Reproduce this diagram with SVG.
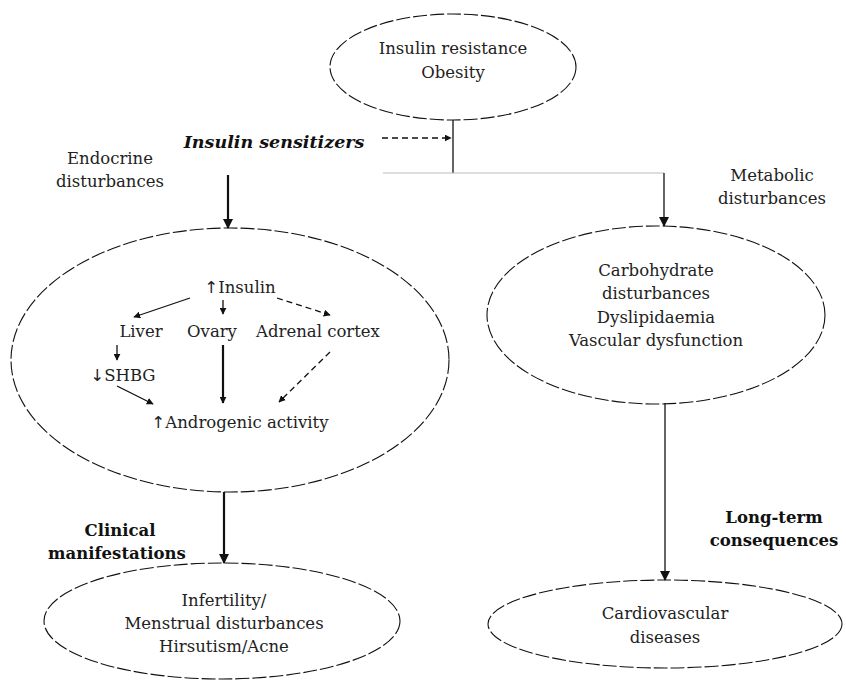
<svg xmlns="http://www.w3.org/2000/svg" width="846" height="683" viewBox="0 0 846 683">
  <style>
    .node { fill: none; stroke: #111; stroke-width: 1.1; stroke-dasharray: 14 3; }
    .t { font-family: "DejaVu Serif", "Liberation Serif", serif; font-size: 16.5px; fill: #222; text-anchor: middle; }
    .b { font-family: "DejaVu Serif", "Liberation Serif", serif; font-size: 16.5px; font-weight: bold; fill: #111; text-anchor: middle; }
    .bi { font-style: italic; font-size: 17.5px; }
    .up { font-family: "DejaVu Sans", sans-serif; fill: #222; }
    .ln { stroke: #111; fill: none; }
    .thin { stroke-width: 1.3; }
    .thick { stroke-width: 2.2; }
    .dash { stroke-dasharray: 6 4; }
  </style>
  <defs>
    <marker id="ah" viewBox="0 0 10 10" refX="9" refY="5" markerWidth="7" markerHeight="7" markerUnits="userSpaceOnUse" orient="auto">
      <path d="M0,0 L10,5 L0,10 z" fill="#111"/>
    </marker>
    <marker id="ahb" viewBox="0 0 10 10" refX="9" refY="5" markerWidth="10" markerHeight="10" markerUnits="userSpaceOnUse" orient="auto">
      <path d="M0,0 L10,5 L0,10 z" fill="#111"/>
    </marker>
  </defs>
  <rect width="846" height="683" fill="#fff"/>

  <g id="connectors">
    <!-- trunk from the top node and its split -->
    <line class="ln thin" x1="453" y1="120" x2="453" y2="173"/>
    <line x1="383" y1="173" x2="664" y2="173" stroke="#bbb" stroke-width="1"/>
    <line class="ln thin dash" x1="382" y1="138" x2="451" y2="138" marker-end="url(#ah)"/>
    <line class="ln thin" x1="664" y1="173" x2="664" y2="226" marker-end="url(#ahb)"/>
    <line class="ln thick" x1="228" y1="175" x2="228" y2="228" marker-end="url(#ahb)"/>
    <line class="ln thin" x1="665" y1="403" x2="665" y2="580" marker-end="url(#ahb)"/>
    <line class="ln thick" x1="224" y1="492" x2="224" y2="563" marker-end="url(#ahb)"/>
    <!-- pathway arrows inside the endocrine node -->
    <line class="ln thin" x1="190" y1="298" x2="134" y2="317" marker-end="url(#ah)"/>
    <line class="ln thin" x1="223" y1="300" x2="223" y2="314" marker-end="url(#ah)"/>
    <line class="ln thin dash" x1="277" y1="298" x2="330" y2="315" marker-end="url(#ah)"/>
    <line class="ln thin" x1="117" y1="345" x2="117" y2="360" marker-end="url(#ah)"/>
    <line class="ln thick" x1="223" y1="345" x2="223" y2="403" marker-end="url(#ah)"/>
    <line class="ln thin" x1="117" y1="386" x2="153" y2="404" marker-end="url(#ah)"/>
    <line class="ln thin dash" x1="330" y1="352" x2="279" y2="402" marker-end="url(#ah)"/>
  </g>

  <g id="insulin-resistance">
    <ellipse class="node" cx="453" cy="67" rx="123" ry="53"/>
    <text class="t" x="453" y="54">Insulin resistance</text>
    <text class="t" x="453" y="78">Obesity</text>
  </g>

  <g id="insulin-sensitizers">
    <text class="b bi" x="274" y="148">Insulin sensitizers</text>
  </g>

  <g id="endocrine-label">
    <text class="t" x="110" y="164">Endocrine</text>
    <text class="t" x="110" y="187">disturbances</text>
  </g>

  <g id="metabolic-label">
    <text class="t" x="772" y="181">Metabolic</text>
    <text class="t" x="772" y="204">disturbances</text>
  </g>

  <g id="endocrine">
    <ellipse class="node" cx="230" cy="360" rx="219" ry="132"/>
    <text class="t" x="240" y="293"><tspan class="up">↑</tspan>Insulin</text>
    <text class="t" x="141" y="337">Liver</text>
    <text class="t" x="212" y="337">Ovary</text>
    <text class="t" x="318" y="337">Adrenal cortex</text>
    <text class="t" x="123" y="381"><tspan class="up">↓</tspan>SHBG</text>
    <text class="t" x="240" y="428"><tspan class="up">↑</tspan>Androgenic activity</text>
  </g>

  <g id="metabolic">
    <ellipse class="node" cx="656" cy="315" rx="169" ry="89"/>
    <text class="t" x="656" y="276">Carbohydrate</text>
    <text class="t" x="656" y="299">disturbances</text>
    <text class="t" x="656" y="323">Dyslipidaemia</text>
    <text class="t" x="656" y="346">Vascular dysfunction</text>
  </g>

  <g id="clinical-label">
    <text class="b" x="120" y="536">Clinical</text>
    <text class="b" x="117" y="559">manifestations</text>
  </g>

  <g id="longterm-label">
    <text class="b" x="774" y="523">Long-term</text>
    <text class="b" x="774" y="546">consequences</text>
  </g>

  <g id="clinical">
    <ellipse class="node" cx="222" cy="621" rx="178" ry="58"/>
    <text class="t" x="224" y="606">Infertility/</text>
    <text class="t" x="224" y="629">Menstrual disturbances</text>
    <text class="t" x="224" y="652">Hirsutism/Acne</text>
  </g>

  <g id="cardiovascular">
    <ellipse class="node" cx="665" cy="624" rx="177" ry="44"/>
    <text class="t" x="665" y="619">Cardiovascular</text>
    <text class="t" x="665" y="643">diseases</text>
  </g>
</svg>
